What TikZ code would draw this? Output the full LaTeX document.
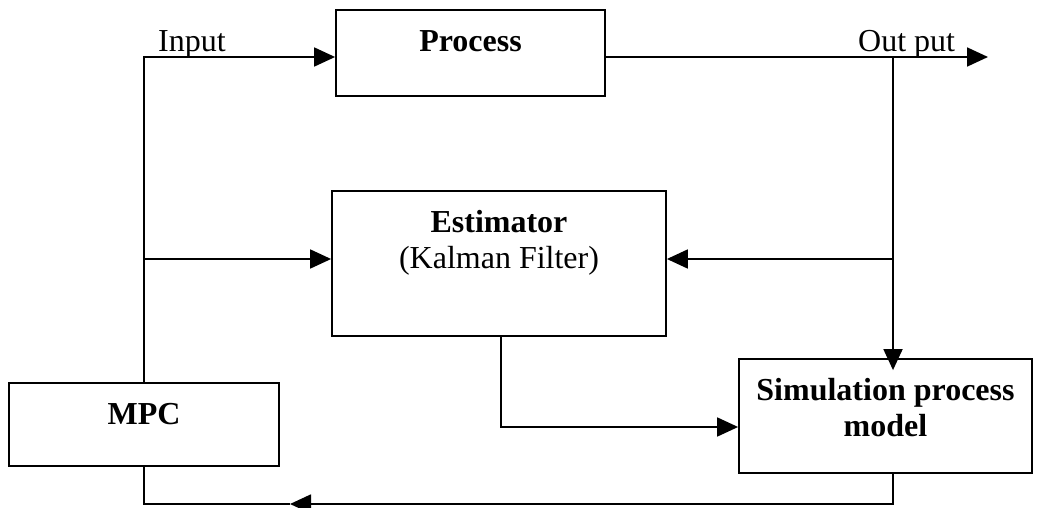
\documentclass[tikz,border=0pt]{standalone}
\usepackage{fontspec}
\setmainfont{Liberation Serif}
\usetikzlibrary{positioning, calc, arrows.meta}

\begin{document}
\begin{tikzpicture}[
    x=1pt, y=-1pt,
    block/.style={rectangle, draw=black, line width=1.8pt, inner sep=0pt, font=\bfseries, align=center},
    arrow/.style={-{Triangle[length=21pt, width=19pt]}, line width=1.8pt},
    wire/.style={line width=1.8pt}
]
    \fontsize{32}{36}\selectfont
    \useasboundingbox (0,0) rectangle (1038,508);

    % Blocks
    \node[block, minimum width=269pt, minimum height=86pt, text height=21pt, text depth=23pt] (process) at (470.5,53) {Process};
    \node[block, minimum width=334pt, minimum height=145pt, text height=57pt, text depth=48pt] (estimator) at (499,263.5) {Estimator\\\mdseries(Kalman Filter)};
    \node[block, minimum width=270pt, minimum height=83pt, text height=21pt, text depth=22pt] (mpc) at (144,424.5) {MPC};
    \node[block, minimum width=293pt, minimum height=114pt, text height=57pt, text depth=17pt] (sim) at (885.5,416) {Simulation process\\model};

    % Signal labels
    \node[anchor=base west, inner sep=0pt] (inlabel) at (158,52) {Input};
    \node[anchor=base west, inner sep=0pt] (outlabel) at (858,52) {Out put};

    % Branch points
    \coordinate (sigin) at (144,57);
    \coordinate (estin) at (144,259);
    \coordinate (outtap) at (893,57);
    \coordinate (outend) at (988,57);
    \coordinate (esttap) at (893,259);
    \coordinate (estout) at (501,427);
    \coordinate (fbarrow) at (290,504);

    % Input to process and estimator
    \draw[arrow] (mpc.north) -- (sigin) -- (sigin -| process.west);
    \draw[arrow] (estin) -- (estin -| estimator.west);

    % Output
    \draw[arrow] (sigin -| process.east) -- (outend);
    \draw[arrow, shorten >=-12pt] (outtap) -- (outtap |- sim.north);
    \draw[arrow] (esttap) -- (esttap -| estimator.east);

    % Estimator to model
    \draw[arrow] (estimator.south -| estout) |- (estout -| sim.west);

    % Feedback to MPC
    \draw[arrow] (outtap |- sim.south) |- (fbarrow);
    \draw[wire] (fbarrow) -| (mpc.south);

\end{tikzpicture}
\end{document}
